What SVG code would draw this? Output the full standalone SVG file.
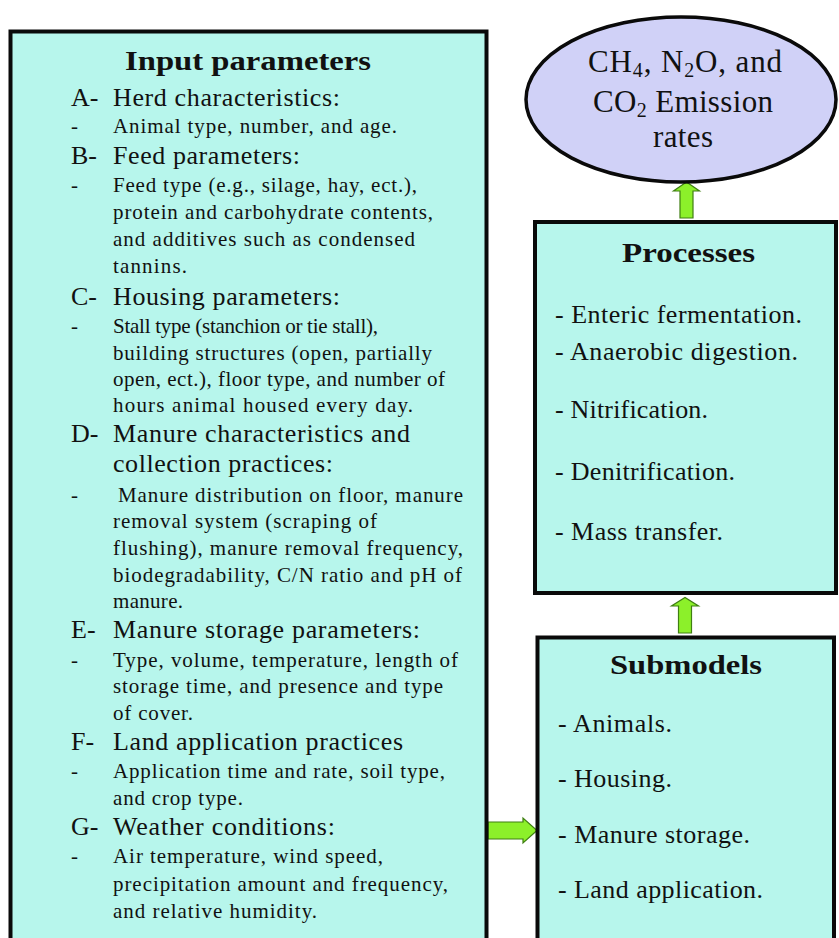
<svg xmlns="http://www.w3.org/2000/svg" width="839" height="938" viewBox="0 0 839 938" font-family="'Liberation Serif', 'Times New Roman', serif">
  <defs>
    <style>
      .box { fill: #b7f6ec; stroke: #0a0a0a; stroke-width: 4; }
      .oval { fill: #d0d1f7; stroke: #0a0a0a; stroke-width: 3.5; }
      .arrow { fill: #8cf02a; stroke: #3f7f12; stroke-width: 1.2; stroke-linejoin: miter; }
      text { font-family: 'Liberation Serif', 'Times New Roman', serif; fill: #111; }
      .title { font-size: 28px; font-weight: bold; }
      .head { font-size: 26px; }
      .sub { font-size: 21px; }
      .item { font-size: 26px; }
      .emis { font-size: 31px; }
      .sc { font-size: 20px; }
    </style>
  </defs>

  <rect width="839" height="938" fill="#ffffff"/>

  <!-- connectors: block arrows -->
  <g id="connectors">
    <path class="arrow" d="M680,218 L680,191 L673.5,191 L686.5,182 L699.5,191 L693,191 L693,218 Z"/>
    <path class="arrow" d="M678.5,633 L678.5,606 L671.5,606 L685,597.5 L698.5,606 L691.5,606 L691.5,633 Z"/>
    <path class="arrow" d="M488,822 L523,822 L523,818 L537,830.5 L523,843 L523,839 L488,839 Z"/>
  </g>

  <!-- input parameters -->
  <g id="input-parameters">
    <rect class="box" x="10.5" y="31.5" width="476" height="940"/>
    <text class="title" x="125" y="70" textLength="246" lengthAdjust="spacingAndGlyphs">Input parameters</text>

    <text class="head" x="71" y="106">A-</text>
    <text class="head" x="113" y="106" textLength="227" lengthAdjust="spacing">Herd characteristics:</text>
    <text class="sub" x="71" y="133">-</text>
    <text class="sub" x="113" y="133" textLength="284" lengthAdjust="spacing">Animal type, number, and age.</text>

    <text class="head" x="71" y="164">B-</text>
    <text class="head" x="113" y="164" textLength="187" lengthAdjust="spacing">Feed parameters:</text>
    <text class="sub" x="71" y="192">-</text>
    <text class="sub" x="113" y="192" textLength="304" lengthAdjust="spacing">Feed type (e.g., silage, hay, ect.),</text>
    <text class="sub" x="113" y="219" textLength="320" lengthAdjust="spacing">protein and carbohydrate contents,</text>
    <text class="sub" x="113" y="246" textLength="302" lengthAdjust="spacing">and additives such as condensed</text>
    <text class="sub" x="113" y="273" textLength="74" lengthAdjust="spacing">tannins.</text>

    <text class="head" x="71" y="305">C-</text>
    <text class="head" x="113" y="305" textLength="227" lengthAdjust="spacing">Housing parameters:</text>
    <text class="sub" x="71" y="333">-</text>
    <text class="sub" x="113" y="333" textLength="265" lengthAdjust="spacing">Stall type (stanchion or tie stall),</text>
    <text class="sub" x="113" y="360" textLength="319" lengthAdjust="spacing">building structures (open, partially</text>
    <text class="sub" x="113" y="386" textLength="332" lengthAdjust="spacing">open, ect.), floor type, and number of</text>
    <text class="sub" x="113" y="412" textLength="300" lengthAdjust="spacing">hours animal housed every day.</text>

    <text class="head" x="71" y="442">D-</text>
    <text class="head" x="113" y="442" textLength="297" lengthAdjust="spacing">Manure characteristics and</text>
    <text class="head" x="113" y="472" textLength="220" lengthAdjust="spacing">collection practices:</text>
    <text class="sub" x="71" y="502">-</text>
    <text class="sub" x="118" y="502" textLength="345" lengthAdjust="spacing">Manure distribution on floor, manure</text>
    <text class="sub" x="113" y="528" textLength="264" lengthAdjust="spacing">removal system (scraping of</text>
    <text class="sub" x="113" y="555" textLength="350" lengthAdjust="spacing">flushing), manure removal frequency,</text>
    <text class="sub" x="113" y="582" textLength="349" lengthAdjust="spacing">biodegradability, C/N ratio and pH of</text>
    <text class="sub" x="113" y="608" textLength="70" lengthAdjust="spacing">manure.</text>

    <text class="head" x="71" y="638">E-</text>
    <text class="head" x="113" y="638" textLength="307" lengthAdjust="spacing">Manure storage parameters:</text>
    <text class="sub" x="71" y="667">-</text>
    <text class="sub" x="113" y="667" textLength="345" lengthAdjust="spacing">Type, volume, temperature, length of</text>
    <text class="sub" x="113" y="693" textLength="330" lengthAdjust="spacing">storage time, and presence and type</text>
    <text class="sub" x="113" y="720" textLength="80" lengthAdjust="spacing">of cover.</text>

    <text class="head" x="71" y="750">F-</text>
    <text class="head" x="113" y="750" textLength="290" lengthAdjust="spacing">Land application practices</text>
    <text class="sub" x="71" y="778">-</text>
    <text class="sub" x="113" y="778" textLength="332" lengthAdjust="spacing">Application time and rate, soil type,</text>
    <text class="sub" x="113" y="805" textLength="130" lengthAdjust="spacing">and crop type.</text>

    <text class="head" x="71" y="835">G-</text>
    <text class="head" x="113" y="835" textLength="222" lengthAdjust="spacing">Weather conditions:</text>
    <text class="sub" x="71" y="863">-</text>
    <text class="sub" x="113" y="863" textLength="270" lengthAdjust="spacing">Air temperature, wind speed,</text>
    <text class="sub" x="113" y="891" textLength="335" lengthAdjust="spacing">precipitation amount and frequency,</text>
    <text class="sub" x="113" y="918" textLength="204" lengthAdjust="spacing">and relative humidity.</text>
  </g>

  <!-- emission rates -->
  <g id="emission-rates">
    <ellipse class="oval" cx="681" cy="99.5" rx="155" ry="82.5"/>
    <text class="emis" x="588" y="72" textLength="194" lengthAdjust="spacing">CH<tspan class="sc" dy="5">4</tspan><tspan dy="-5">, N</tspan><tspan class="sc" dy="5">2</tspan><tspan dy="-5">O, and</tspan></text>
    <text class="emis" x="593" y="112" textLength="180" lengthAdjust="spacing">CO<tspan class="sc" dy="5">2</tspan><tspan dy="-5"> Emission</tspan></text>
    <text class="emis" x="653" y="147" textLength="60" lengthAdjust="spacing">rates</text>
  </g>

  <!-- processes -->
  <g id="processes">
    <rect class="box" x="535" y="222" width="301" height="371"/>
    <text class="title" x="622" y="262" textLength="133" lengthAdjust="spacingAndGlyphs">Processes</text>
    <text class="item" x="555" y="323" textLength="247" lengthAdjust="spacing">- Enteric fermentation.</text>
    <text class="item" x="555" y="360" textLength="243" lengthAdjust="spacing">- Anaerobic digestion.</text>
    <text class="item" x="555" y="418" textLength="153" lengthAdjust="spacing">- Nitrification.</text>
    <text class="item" x="555" y="480" textLength="180" lengthAdjust="spacing">- Denitrification.</text>
    <text class="item" x="555" y="540" textLength="168" lengthAdjust="spacing">- Mass transfer.</text>
  </g>

  <!-- submodels -->
  <g id="submodels">
    <rect class="box" x="537.5" y="637.5" width="296.5" height="340"/>
    <text class="title" x="610" y="674" textLength="152" lengthAdjust="spacingAndGlyphs">Submodels</text>
    <text class="item" x="558" y="732" textLength="114" lengthAdjust="spacing">- Animals.</text>
    <text class="item" x="558" y="787" textLength="114" lengthAdjust="spacing">- Housing.</text>
    <text class="item" x="558" y="843" textLength="192" lengthAdjust="spacing">- Manure storage.</text>
    <text class="item" x="558" y="898" textLength="205" lengthAdjust="spacing">- Land application.</text>
  </g>
</svg>
